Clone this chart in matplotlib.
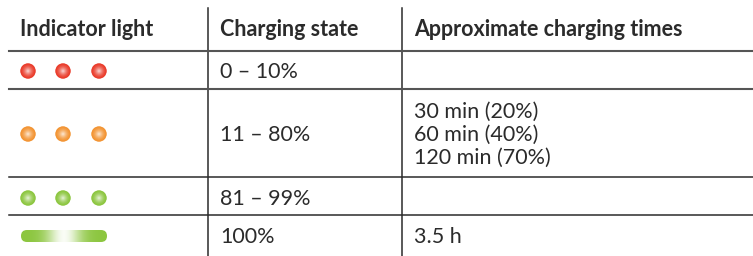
import numpy as np
import matplotlib.pyplot as plt
from matplotlib.patches import Circle, FancyBboxPatch
from matplotlib.colors import to_rgb

plt.rcParams['font.family'] = ['Lato', 'DejaVu Sans']

headers = ['Indicator light', 'Charging state', 'Approximate charging times']
light_colors = ['#ea3b2a', '#f39432', '#8cc63f', '#8cc63f']
light_kind = ['dots', 'dots', 'dots', 'bar']
states = ['0 – 10%', '11 – 80%', '81 – 99%', '100%']
times = ['', '30 min (20%)\n60 min (40%)\n120 min (70%)', '', '3.5 h']

W, H = 753, 256
fig = plt.figure(figsize=(W / 100, H / 100), dpi=100)
ax = fig.add_axes([0, 0, 1, 1])
ax.set_xlim(0, W)
ax.set_ylim(H, 0)
ax.axis('off')

col_x = [20, 220, 414]
vlines = [208, 402]
row_tops = [51, 89, 177, 215, 256]
header_y = 30
ink = '#2b2b2b'
fs = 15.5

for x, h in zip(col_x, headers):
    ax.text(x, header_y, h, fontsize=fs, fontweight='bold', color=ink, va='center')

for x in vlines:
    ax.plot([x, x], [8, H], color=ink, lw=1.1)
for i, y in enumerate(row_tops[:-1]):
    ax.plot([9, W], [y, y], color='#555555' if i < 2 else ink, lw=1.5 if i < 2 else 1.1)


def dot(cx, cy, col, r=7.4):
    base = np.array(to_rgb(col))
    n = 16
    for k in range(n):
        t = k / (n - 1)
        c = base + (1 - base) * (t ** 1.6) * 0.8
        ax.add_patch(Circle((cx, cy), r * (1 - t) + 0.3, color=c, lw=0, zorder=3))


def bar(x0, x1, cy, col, h=12):
    base = np.array(to_rgb(col))
    xs = np.linspace(-1, 1, 200)
    w = np.exp(-(xs / 0.4) ** 2)
    img = base[None, :] + (1 - base[None, :]) * w[:, None] * 0.95
    img = np.tile(img[None, :, :], (2, 1, 1))
    im = ax.imshow(img, extent=[x0, x1, cy + h / 2, cy - h / 2], aspect='auto', zorder=3,
                   interpolation='bilinear')
    clip = FancyBboxPatch((x0, cy - h / 2), x1 - x0, h,
                          boxstyle='round,pad=0,rounding_size=%f' % (h / 2 - 0.01),
                          fc='none', ec='none')
    ax.add_patch(clip)
    im.set_clip_path(clip)


row_centers = [71, 134, 198, 236]
for i in range(4):
    cy = row_centers[i]
    if light_kind[i] == 'dots':
        for cx in [28, 63, 99]:
            dot(cx, cy, light_colors[i])
    else:
        bar(21, 107, cy, light_colors[i])
    ax.text(col_x[1], cy + 1, states[i], fontsize=fs, color=ink, va='center')
    if times[i]:
        ax.text(col_x[2], cy + 1, times[i], fontsize=fs, color=ink, va='center',
                linespacing=1.2)

fig.savefig('out.png', dpi=100)
